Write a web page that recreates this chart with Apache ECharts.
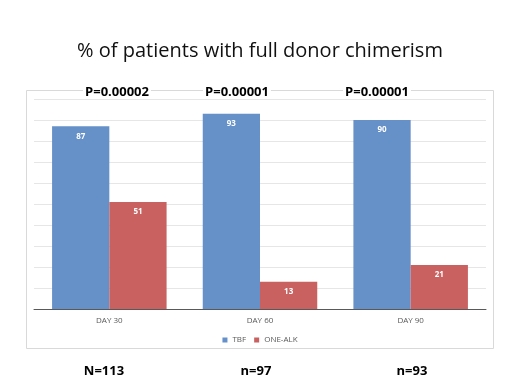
<!DOCTYPE html>
<html>
<head>
<meta charset="utf-8">
<script src="https://cdn.jsdelivr.net/npm/echarts@6/dist/echarts.min.js"></script>
<style>
  html, body { margin: 0; padding: 0; background: #fff; }
  #chart { width: 520px; height: 390px; }
</style>
</head>
<body>
<div id="chart"></div>
<script>
// data
var days = ['DAY 30', 'DAY 60', 'DAY 90'];
var tbf = [87, 93, 90];
var oneAlk = [51, 13, 21];
var pValues = ['P=0.00002', 'P=0.00001', 'P=0.00001'];
var nCounts = ['N=113', 'n=97', 'n=93'];

var FONT = 'Open Sans, Liberation Sans, sans-serif';

var oChart = echarts.init(document.getElementById('chart'));

// positions of the annotations above and below the plot
var pX = [117, 237, 377];
var nX = [104, 256, 412];

var aGraphic = [
    {   // chart frame
        type: 'rect', left: 26, top: 90, z: -1,
        shape: { width: 467, height: 258 },
        style: { fill: '#fff', stroke: '#d9d9d9', lineWidth: 1 }
    }
];
pValues.forEach(function (s, i) {
    aGraphic.push({
        type: 'text', x: pX[i], y: 92, z: 10,
        style: {
            text: s, fill: '#000', font: 'bold 13px ' + FONT,
            align: 'center', verticalAlign: 'middle',
            backgroundColor: '#fff', padding: [0, 2]
        }
    });
});
nCounts.forEach(function (s, i) {
    aGraphic.push({
        type: 'text', x: nX[i], y: 371,
        style: {
            text: s, fill: '#000', font: 'bold 13px ' + FONT,
            align: 'center', verticalAlign: 'middle'
        }
    });
});

var oOption = {
    backgroundColor: '#fff',
    title: {
        text: '% of patients with full donor chimerism',
        left: 'center',
        top: 36,
        textStyle: { fontFamily: FONT, fontSize: 20, fontWeight: 'normal', color: '#111' }
    },
    legend: {
        data: ['TBF', 'ONE-ALK'],
        left: 'center',
        top: 331,
        itemWidth: 5,
        itemHeight: 5,
        itemGap: 8,
        icon: 'rect',
        textStyle: { fontFamily: FONT, fontSize: 8, color: '#595959' }
    },
    grid: {
        left: 34,
        right: 34,
        top: 99,
        bottom: 81
    },
    xAxis: {
        type: 'category',
        data: days,
        axisLine: { lineStyle: { color: '#595959', width: 1 } },
        axisTick: { show: false },
        axisLabel: { fontFamily: FONT, fontSize: 8, color: '#595959', margin: 8 }
    },
    yAxis: {
        type: 'value',
        min: 0,
        max: 100,
        interval: 10,
        axisLabel: { show: false },
        axisLine: { show: false },
        axisTick: { show: false },
        splitLine: { lineStyle: { color: '#e6e6e6', width: 1 } }
    },
    series: [
        {
            name: 'TBF',
            type: 'bar',
            data: tbf,
            barGap: '0%',
            barCategoryGap: '24%',
            itemStyle: { color: '#6590c8' },
            label: {
                show: true, position: 'insideTop', distance: 6,
                color: '#fff', fontFamily: FONT, fontSize: 8, fontWeight: 'bold'
            }
        },
        {
            name: 'ONE-ALK',
            type: 'bar',
            data: oneAlk,
            itemStyle: { color: '#c96161' },
            label: {
                show: true, position: 'insideTop', distance: 6,
                color: '#fff', fontFamily: FONT, fontSize: 8, fontWeight: 'bold'
            }
        }
    ],
    graphic: aGraphic
};

oChart.setOption(oOption, true);
</script>
</body>
</html>
